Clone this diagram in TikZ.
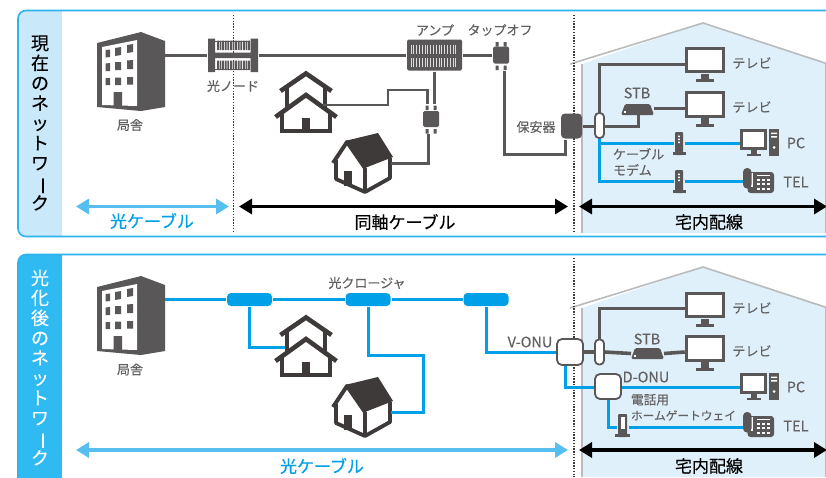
\documentclass[tikz,border=0pt]{standalone}
\usepackage{fontspec}
\setmainfont{Noto Sans CJK JP}
\newfontfamily\medjp[FakeBold=0.35]{Noto Sans CJK JP}
\newfontfamily\lbljp[FakeBold=0.12]{Noto Sans CJK JP}
\usetikzlibrary{arrows.meta}
\definecolor{dk}{HTML}{595757}
\definecolor{hs}{HTML}{3E3A39}
\definecolor{tx}{HTML}{626060}
\definecolor{bl}{HTML}{00A0E9}
\definecolor{ab}{HTML}{56BFF0}
\definecolor{pn}{HTML}{2DB4EE}
\definecolor{sideA}{HTML}{C9E8FA}
\definecolor{sideB}{HTML}{2FBAF1}
\definecolor{hm}{HTML}{DFF0FB}
\definecolor{wl}{HTML}{B9BBBC}
\tikzset{
 ghost/.style={inner sep=0pt,outer sep=0pt,minimum width=#1},
 lbl/.style={inner sep=0pt,outer sep=0pt,text=tx,font=\fontsize{13}{15}\lbljp},
 lat/.style={inner sep=0pt,outer sep=0pt,text=tx,font=\fontsize{14.5}{16}\lbljp},
 big/.style={inner sep=0pt,outer sep=0pt,font=\fontsize{17}{19}\medjp},
 side/.style={inner sep=0pt,outer sep=0pt,align=center,font=\fontsize{18}{20}\medjp},
 gline/.style={draw=dk,line width=3pt},
 bline/.style={draw=bl,line width=3pt},
 darrow/.style={line width=3.4pt,{Triangle[length=13pt,width=15pt]}-{Triangle[length=13pt,width=15pt]}},
 dots/.style={draw=hs,line width=1.4pt,dash pattern=on 1.4pt off 1.4pt},
 mon/.style={draw=dk,line width=3pt,fill=white,inner sep=0pt,outer sep=1.5pt},
 box/.style={fill=dk,inner sep=0pt,outer sep=1pt,rounded corners=1.5pt},
 onu/.style={draw=dk,line width=1.8pt,fill=white,inner sep=0pt,outer sep=1pt,rounded corners=5pt},
 pill/.style={draw=dk,line width=1.8pt,fill=white,inner sep=0pt,outer sep=.5pt,rounded corners=4pt,minimum width=9pt,minimum height=25pt},
 clos/.style={fill=bl,inner sep=0pt,outer sep=1pt,rounded corners=4pt,minimum width=45pt,minimum height=13pt},
}
\newcommand{\Bldg}[1]{%
 \node[ghost=68pt,minimum height=79pt] (#1) at (131,71.5) {};
 \fill[dk] (97,43)--(141,32)--(165,41)--(165,107)--(141,111)--(97,107)--cycle;
 \fill[white] (102,47)--(137,40)--(137,106)--(102,105)--cycle;
 \fill[dk] (105.5,50)--(110,49.5)--(110,57)--(105.5,57.5)--cycle (115,48)--(121,47)--(121,55)--(115,56)--cycle (127,45)--(133,44)--(133,52)--(127,53)--cycle
 (105.5,63.5)--(110,63)--(110,71)--(105.5,71)--cycle (115,62)--(121,62)--(121,70)--(115,70)--cycle (127,60.5)--(133,60)--(133,69)--(127,69)--cycle
 (105.5,78)--(110,78)--(110,85)--(105.5,85)--cycle (115,77.5)--(121,77.5)--(121,85)--(115,85)--cycle (127,77)--(133,77)--(133,84.5)--(127,84.5)--cycle
 (113.5,92) rectangle (122,106);
}
\newcommand{\TwoHouse}[1]{%
 \node[ghost=62pt,minimum height=60pt] (#1) at (306,102) {};
 \draw[hs,line width=3.6pt] (287,86)--(287,108) (325,86)--(325,108);
 \draw[hs,line width=4.6pt] (280.5,91)--(306,73.5)--(331.5,91);
 \fill[white] (282,116)--(306,96)--(330,116)--(330,130)--(282,130)--cycle;
 \draw[hs,line width=3.4pt] (282,113)--(282,131)--(330,131)--(330,113);
 \draw[hs,line width=4.6pt] (275.5,117)--(306,95)--(336.5,117);
 \fill[hs] (302,118) rectangle (310,131);
}
\newcommand{\OneHouse}[1]{%
 \node[ghost=60pt,minimum height=54pt] (#1) at (361,166.5) {};
 \draw[hs,line width=4pt,line join=round] (333,163)--(347,142)--(365,168);
 \fill[hs] (345,141)--(378,133)--(393,157)--(365,168)--cycle;
 \draw[hs,line width=3.8pt,line join=round] (336,160)--(336,179)--(365,192)--(390,178)--(390,158);
 \draw[hs,line width=3.4pt] (365,168)--(365,192);
 \fill[hs] (344,171) rectangle (352,186);
}
\newcommand{\Home}{%
 \fill[hm] (582,64)--(703,23)--(830,64)--(830,233)--(582,233)--cycle;
 \draw[wl,line width=1.6pt] (570,64)--(703,23)--(828,64);
 \draw[wl,line width=2.2pt] (582,64)--(582,233) (826,64)--(826,233);
}
\newcommand{\Mon}[3]{% name, cx, cy
 \node[mon,minimum width=37.5pt,minimum height=23.5pt] (#1) at (#2,#3) {};
 \fill[dk] (#2-4,#3+13.5) rectangle (#2+4,#3+19);
 \fill[dk] (#2-9,#3+19) rectangle (#2+9,#3+22);
}
\newcommand{\PCx}[3]{% name, cx, cy
 \node[mon,minimum width=24.5pt,minimum height=18.5pt] (#1) at (#2,#3) {};
 \fill[dk] (#2-3,#3+10.5) rectangle (#2+3,#3+14);
 \fill[dk] (#2-7,#3+14) rectangle (#2+7,#3+16.5);
 \fill[dk] (#2+15.5,#3-10.5) rectangle (#2+25.5,#3+16.5);
 \fill[white] (#2+17.5,#3-7) rectangle (#2+23.5,#3-5.5) (#2+17.5,#3-3.5) rectangle (#2+23.5,#3-2);
 \fill[white] (#2+20.5,#3+8) circle (1.5pt);
}
\newcommand{\Telx}[3]{% name, cx, cy
 \node[ghost=31pt,minimum height=25pt] (#1) at (#2,#3) {};
 \fill[dk,rounded corners=3pt] (#2-11,#3-8.5) rectangle (#2+15.5,#3+12.5);
 \fill[white] (#2-7.5,#3-8) rectangle (#2-5.8,#3+6);
 \fill[dk,rounded corners=4pt] (#2-15.5,#3-12.5) rectangle (#2-7,#3+8);
 \foreach \u in {-2,3,8}{\foreach \v in {-2,2.5,7}{\fill[white] (#2+\u,#3+\v) rectangle ++(3,2);}}
 \fill[white] (#2-2,#3-6) rectangle (#2+11,#3-4.5);
}
\newcommand{\Tower}[3]{% name, cx, cy
 \node[fill=dk,inner sep=0pt,outer sep=1.5pt,rounded corners=1pt,minimum width=8pt,minimum height=23pt] (#1) at (#2,#3) {};
 \fill[dk] (#2-6.5,#3+8.5) rectangle (#2+6.5,#3+11.5);
 \fill[white] (#2-.8,#3-8) rectangle (#2+.8,#3-6.5) (#2-.8,#3-5) rectangle (#2+.8,#3-3.5) (#2-.8,#3-2) rectangle (#2+.8,#3-.5);
}
\newcommand{\Stb}[5]{% name,left,right,top,bottom
 \node[ghost=#3pt-#2pt,minimum height=#5pt-#4pt] (#1) at ({(#2+#3)/2},{(#4+#5)/2}) {};
 \fill[dk,rounded corners=1.5pt] (#2,#5)--(#2+4,#4)--(#3-4,#4)--(#3,#5)--cycle;
 \fill[white] (#2+3,#5-4) rectangle ++(2.2,1.8);
}
\newcommand{\Pins}[2]{% cx, cy of a body 16x17
 \fill[dk] (#1-5.5,#2-13.5) rectangle ++(3,4.5) (#1+2.5,#2-13.5) rectangle ++(3,4.5) (#1-5.5,#2+10) rectangle ++(3,4.5) (#1+2.5,#2+10) rectangle ++(3,4.5);
}
\begin{document}
\begin{tikzpicture}[x=1pt,y=-1pt]
\useasboundingbox (0,0) rectangle (826,477);
\fill[white] (0,0) rectangle (826,477);
% top panel
\begin{scope}
 \clip[rounded corners=8pt] (18,10.5) rectangle (860,236.5);
 \fill[sideA] (18,10) rectangle (62,237);
\end{scope}
\draw[pn,line width=1.6pt,rounded corners=8pt] (18,10.5) rectangle (860,236.5);
% bottom panel
\begin{scope}
 \clip[rounded corners=8pt] (18,254.5) rectangle (860,500);
 \fill[sideB] (18,254) rectangle (62,500);
\end{scope}
\draw[pn,line width=1.6pt,rounded corners=8pt] (18,254.5) rectangle (860,500);
\node[side,text=black] (sideT) at (40,123) {現\\在\\の\\ネ\\ッ\\ト\\ワ\\\rotatebox[origin=c]{-90}{ー}\\ク};
\node[side,text=white] (sideB1) at (40,367.5) {光\\化\\後\\の\\ネ\\ッ\\ト\\ワ\\\rotatebox[origin=c]{-90}{ー}\\ク};
% homes
\Home
\begin{scope}[shift={(0,244)}]\Home\end{scope}
% separators
\coordinate (d1a) at (233.5,15); \coordinate (d1b) at (233.5,233);
\coordinate (d2a) at (574,15); \coordinate (d2b) at (574,233);
\coordinate (d3a) at (574,258); \coordinate (d3b) at (574,477);
\draw[dots] (d1a)--(d1b); \draw[dots] (d2a)--(d2b); \draw[dots] (d3a)--(d3b);

%%% TOP
\Bldg{bldA}
\node[lbl] (lbA) at (130,125) {局舎};
% optical node
\node[inner sep=0pt,outer sep=1pt,minimum width=50pt,minimum height=33pt] (onode) at (233,55) {};
\fill[dk] (208,38.5) rectangle (215,72) (250.5,38.5) rectangle (258,72) (215,52.5) rectangle (250.5,58);
\foreach \x in {217,219.6,...,249}{\fill[dk] (\x,40.5) rectangle ++(1.8,9.5) (\x,60.5) rectangle ++(1.8,9.5);}
\draw[dk,line width=.7pt] (215,41)--(250,41) (215,69.5)--(250,69.5);
\node[lbl] (lbNode) at (233,86) {光ノード};
% amp
\node[box,minimum width=55pt,minimum height=31pt] (amp) at (434.5,55) {};
\foreach \x in {411,413.8,...,458}{\draw[white!80!dk,line width=1pt] (\x,45)--(\x,54) (\x,58)--(\x,67);}
\node[lbl] (lbAmp) at (435,30) {アンプ};
% tap-off
\node[box,minimum width=16pt,minimum height=17pt] (tap) at (501,55) {};
\Pins{501}{55.5}
\node[lbl] (lbTap) at (500,30) {タップオフ};
% street splitter
\node[box,minimum width=16pt,minimum height=16pt] (spt) at (431,119) {};
\Pins{431}{119}
% protector
\node[box,rounded corners=4pt,minimum width=21pt,minimum height=25pt] (prot) at (571.5,126) {};
\node[lbl] (lbProt) at (536,127) {保安器};
\TwoHouse{hA}
\OneHouse{hB}
\draw[gline] (bldA.east |- onode) -- (onode.west);
\draw[gline] (onode.east) -- (amp.west);
\draw[gline] (amp.east) -- (tap.west);
\coordinate (a1) at (434.5,71.5); \coordinate (a2) at (434.5,104);
\draw[gline] (amp.south) -- (a2);
\coordinate (a3) at (388,105); \coordinate (a4) at (388,90); \coordinate (a5) at (427.5,90); \coordinate (a6) at (427.5,104);
\draw[gline,line width=2.6pt] (323,105) -- (a3) -- (a4) -- (a5) -- (a6);
\coordinate (a7) at (428,134); \coordinate (a8) at (428,163);
\draw[gline] (a7) -- (a8) -- (a8 -| hB.east);
\coordinate (t1) at (504.5,71); \coordinate (t2) at (504.5,154); \coordinate (t3) at (565,154);
\draw[gline] (t1) -- (t2) -- (t3) -- (t3 |- prot.south);
\node[big,text=bl] (lbFiberA) at (152,221) {光ケーブル};
\node[big,text=black] (lbCoax) at (405,222) {同軸ケーブル};
\node[big,text=black] (lbHomeA) at (709,222) {宅内配線};
\coordinate (x1) at (76,206.5); \coordinate (x2) at (229,206.5); \coordinate (x3) at (239,206.5); \coordinate (x4) at (568,206.5); \coordinate (x5) at (579,206.5); \coordinate (x6) at (827,206.5);
\draw[darrow,ab] (x1) -- (x2);
\draw[darrow,black] (x3) -- (x4);
\draw[darrow,black] (x5) -- (x6);
% top home
\Mon{tvA}{705}{60}
\Mon{tvB}{705}{104.5}
\node[lbl] (lbTvA) at (752,63) {テレビ};
\node[lbl] (lbTvB) at (752,107) {テレビ};
\node[pill] (splA) at (599.5,125.5) {};
\Stb{stbA}{621}{654}{104}{115}
\node[lat] (lbStbA) at (637,93) {STB};
\Tower{mdA}{679}{143.5}
\Tower{mdB}{679}{181.5}
\PCx{pcA}{753.5}{139.5}
\Telx{telA}{758.5}{180.5}
\node[lat] (lbPcA) at (796,143) {PC};
\node[lat] (lbTelA) at (796,182) {TEL};
\node[lbl,align=left,anchor=north west,font=\fontsize{13}{16}\lbljp] (lbModem) at (613,148) {ケーブル\\モデム};
\draw[gline] (prot.east) -- (prot.east -| splA.west);
\coordinate (s1) at (638,126);
\draw[gline] (splA.east |- s1) -- (s1) -- (s1 |- stbA.south);
\draw[gline] (splA.north) |- ([yshift=-4pt]tvA.west);
\draw[gline] (stbA.east |- tvB.west) ++(0,3.5) -- ([yshift=-3.5pt]tvB.west);
\draw[bline] (splA.south) |- (mdA.west);
\draw[bline] (mdA.east) -- (mdA.east -| pcA.west);
\draw[bline] (splA.south) |- (mdB.west);
\draw[bline] (mdB.east) -- (mdB.east -| telA.west);

%%% BOTTOM
\begin{scope}[shift={(0,244)}]
\Bldg{bldB}
\node[lbl] (lbB) at (130,125.5) {局舎};
\TwoHouse{hC}
\OneHouse{hD}
\end{scope}
\node[clos] (c1) at (249.5,299.5) {};
\node[clos] (c2) at (368,299.5) {};
\node[clos] (c3) at (486,299.5) {};
\node[lbl] (lbClos) at (367,283) {光クロージャ};
\draw[bline] (bldB.east |- c1) -- (c1.west);
\draw[bline] (c1.east) -- (c2.west);
\draw[bline] (c2.east) -- (c3.west);
\coordinate (b1) at (249,347);
\draw[bline] (b1 |- c1.south) -- (b1) -- (285,347);
\coordinate (b2) at (368,355); \coordinate (b3) at (423,355); \coordinate (b4) at (423,412);
\draw[bline] (b2 |- c2.south) -- (b2) -- (b3) -- (b4) -- (b4 -| hD.east);
\node[onu,minimum width=26pt,minimum height=26pt] (vonu) at (570,352) {};
\coordinate (b5) at (486,352);
\draw[bline] (b5 |- c3.south) -- (b5) -- (vonu.west);
\node[lat] (lbV) at (530,342) {V-ONU};
\coordinate (y1) at (76,450); \coordinate (y2) at (568,450); \coordinate (y3) at (579,450); \coordinate (y4) at (827,450);
\draw[darrow,ab] (y1) -- (y2);
\draw[darrow,black] (y3) -- (y4);
\node[big,text=bl] (lbFiberB) at (322,466) {光ケーブル};
\node[big,text=black] (lbHomeB) at (709,466) {宅内配線};
% bottom home
\Mon{tvC}{705}{305}
\Mon{tvD}{705}{348.5}
\node[lbl] (lbTvC) at (752,308) {テレビ};
\node[lbl] (lbTvD) at (752,351) {テレビ};
\node[pill] (splB) at (599.5,352) {};
\Stb{stbB}{631}{664}{348}{359}
\node[lat] (lbStbB) at (647,339) {STB};
\node[onu,minimum width=26pt,minimum height=25pt] (donu) at (608,386.5) {};
\node[lat] (lbD) at (646,377) {D-ONU};
\node[lbl,align=left,anchor=north west,font=\fontsize{12.7}{15.5}\lbljp] (lbGw) at (631,394) {電話用\\{\fontsize{11.7}{15.5}\lbljp ホームゲートウェイ}};
\node[fill=dk,inner sep=0pt,outer sep=1.5pt,rounded corners=1pt,minimum width=9pt,minimum height=23pt] (hgw) at (622.5,425.5) {};
\fill[dk] (615,434) rectangle (630,437);
\fill[white] (620.5,417) rectangle (624.5,429);
\PCx{pcB}{753.5}{383.5}
\Telx{telB}{758.5}{424.5}
\node[lat] (lbPcB) at (796,387) {PC};
\node[lat] (lbTelB) at (796,426) {TEL};
\draw[gline,line width=3.6pt] (vonu.east) -- (splB.west);
\draw[gline,line width=3.6pt] (splB.east) -- (stbB.west);
\draw[gline,line width=3.6pt] (stbB.east) -- ([yshift=-3.5pt]tvD.west);
\draw[gline] (splB.north) |- ([yshift=-3pt]tvC.west);
\coordinate (o1) at (565,387);
\draw[bline] (o1 |- vonu.south) -- (o1) -- (o1 -| donu.west);
\draw[bline] (o1 -| donu.east) -- (o1 -| pcB.west);
\coordinate (o2) at (608,427);
\draw[bline] (donu.south) -- (o2) -- (o2 -| hgw.west);
\draw[bline] (o2 -| hgw.east) -- (o2 -| telB.west);
\end{tikzpicture}
\end{document}
